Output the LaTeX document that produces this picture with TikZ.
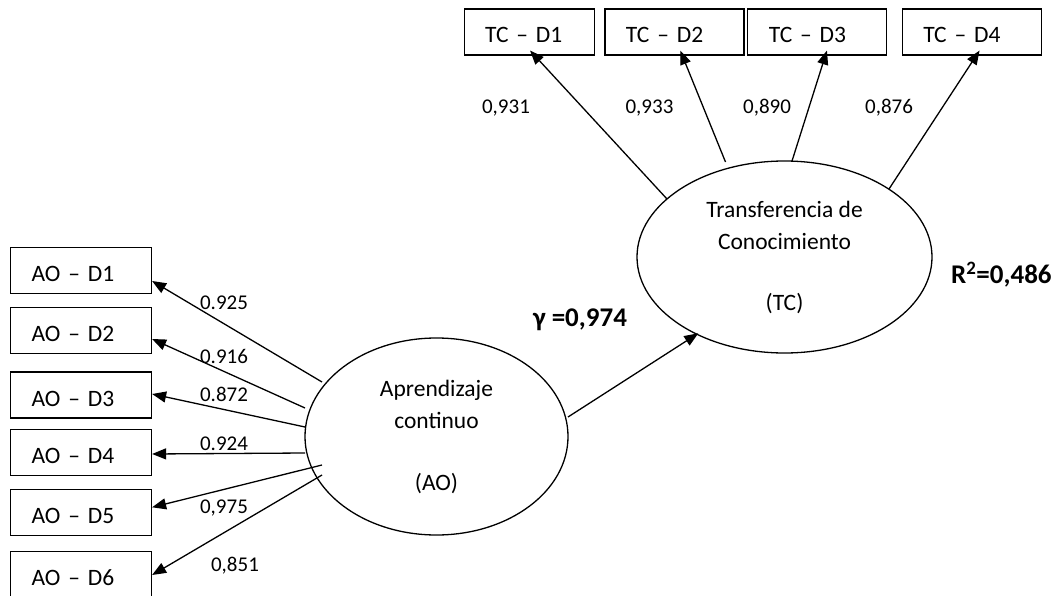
\documentclass[tikz,border=0pt]{standalone}
\usepackage{fontspec}
\setmainfont{Carlito}
\usetikzlibrary{shapes.geometric,arrows.meta}
\begin{document}
\begin{tikzpicture}[x=1pt,y=-1pt,
  indbox/.style={draw, line width=1.1pt, rectangle, anchor=west, minimum height=46pt,
    inner xsep=21pt, inner ysep=0pt, align=left, text height=22pt, text depth=0pt,
    font=\fontsize{23.5}{28}\selectfont},
  latent/.style={draw, line width=1.3pt, ellipse, inner sep=0pt, align=center,
    font=\fontsize{23.5}{32}\selectfont},
  arr/.style={line width=1.3pt, -{Triangle[length=14pt,width=11pt]}},
  lbl/.style={inner sep=0pt, text height=13.3pt, text depth=0pt, font=\fontsize{21}{25}\selectfont},
  big/.style={inner sep=0pt, text height=17.4pt, text depth=0pt, font=\fontsize{27}{32}\selectfont\bfseries}
]
\useasboundingbox (0,0) rectangle (1062,596);

% latent variables
\node[latent, minimum width=263pt, minimum height=197pt] (ao) at (436.5,436.5)
  {Aprendizaje\\continuo\\[30pt](AO)};
\node[latent, minimum width=295pt, minimum height=192pt] (tc) at (784.5,257)
  {Transferencia de\\Conocimiento\\[29pt](TC)};

% AO indicators
\node[indbox, text width=99pt] (b1) at (10,270.3) {AO – D1};
\node[indbox, text width=99pt] (b2) at (10,330.8) {AO – D2};
\node[indbox, text width=99pt] (b3) at (10,395) {AO – D3};
\node[indbox, text width=99pt] (b4) at (10,452.5) {AO – D4};
\node[indbox, text width=99pt] (b5) at (10,512.7) {AO – D5};
\node[indbox, text width=99pt] (b6) at (10,574.7) {AO – D6};

% TC indicators
\node[indbox, text width=88pt, inner xsep=21pt] (t1) at (463.5,32) {TC – D1};
\node[indbox, text width=97pt] (t2) at (604.4,32) {TC – D2};
\node[indbox, text width=97pt] (t3) at (747.3,32) {TC – D3};
\node[indbox, text width=97pt] (t4) at (901.7,32) {TC – D4};

% AO loadings
\draw[arr] ([shift={(-114.5,-54.5)}]ao.center) -- ([shift={(0,10.7)}]b1.east);
\draw[arr] ([shift={(-131.5,-28.5)}]ao.center) -- ([shift={(0,8.2)}]b2.east);
\draw[arr] ([shift={(-131.5,-9.5)}]ao.center) -- ([shift={(0,-1)}]b3.east);
\draw[arr] ([shift={(-131.5,16.5)}]ao.center) -- ([shift={(0,1.5)}]b4.east);
\draw[arr] ([shift={(-114.5,28.5)}]ao.center) -- ([shift={(0,-5.4)}]b5.east);
\draw[arr] ([shift={(-114.5,38.5)}]ao.center) -- ([shift={(0,0.3)}]b6.east);

% TC loadings
\draw[arr] ([shift={(-117.5,-58)}]tc.center) -- ([shift={(1,-5)}]t1.south);
\draw[arr] ([shift={(-59,-95)}]tc.center) -- ([shift={(5.8,-5)}]t2.south);
\draw[arr] ([shift={(7.5,-96)}]tc.center) -- ([shift={(9.6,-5)}]t3.south);
\draw[arr] ([shift={(104.5,-68)}]tc.center) -- ([shift={(7.8,-5)}]t4.south);

% structural path
\draw[arr] ([shift={(131.5,-19.5)}]ao.center) -- ([shift={(-86.2,76.3)}]tc.center);

% labels
\node[lbl] (l1) at (224,303.3) {0.925};
\node[lbl] (l2) at (224,357.3) {0.916};
\node[lbl] (l3) at (224,395) {0.872};
\node[lbl] (l4) at (224,443.5) {0.924};
\node[lbl] (l5) at (224,506.7) {0,975};
\node[lbl] (l6) at (235,565) {0,851};

\node[lbl] (m1) at (506,106.7) {0,931};
\node[lbl] (m2) at (649.5,106.7) {0,933};
\node[lbl] (m3) at (767,106.7) {0,890};
\node[lbl] (m4) at (889,106.7) {0,876};

\node[big] (gam) at (580,318) {γ =0,974};
\node[big, anchor=west] (r2) at (951,275) {R\textsuperscript{2}=0,486};
\end{tikzpicture}
\end{document}
